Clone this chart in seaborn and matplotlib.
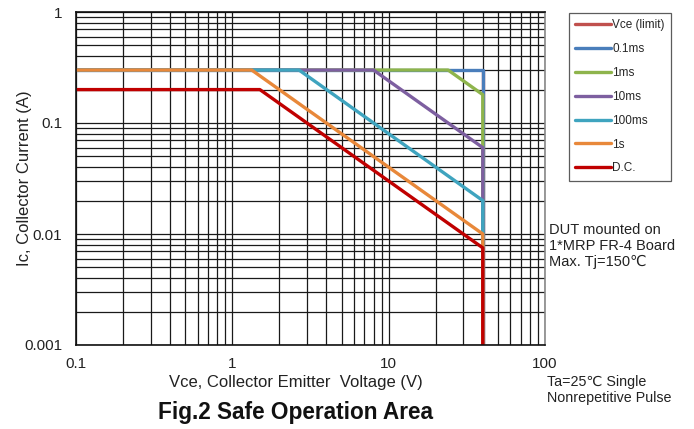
import numpy as np
import pandas as pd
import matplotlib
matplotlib.use("Agg")
import matplotlib.pyplot as plt
import seaborn as sns
from matplotlib.lines import Line2D
from matplotlib.ticker import LogLocator, FixedLocator, FixedFormatter, NullFormatter

# Safe operating area boundaries (Vce in V, Ic in A)
series_names = ["Vce (limit)", "0.1ms", "1ms", "10ms", "100ms", "1s", "D.C."]
vce_limit_v = [40, 40]
vce_limit_i = [0.001, 0.3]
v_01ms = [0.1, 40, 40, 40]
i_01ms = [0.3, 0.3, 0.18, 0.001]
v_1ms = [0.1, 24, 40, 40]
i_1ms = [0.3, 0.3, 0.18, 0.001]
v_10ms = [0.1, 8, 40, 40]
i_10ms = [0.3, 0.3, 0.06, 0.001]
v_100ms = [0.1, 2.67, 40, 40]
i_100ms = [0.3, 0.3, 0.02, 0.001]
v_1s = [0.1, 1.33, 40, 40]
i_1s = [0.3, 0.3, 0.01, 0.001]
v_dc = [0.1, 1.5, 40, 40]
i_dc = [0.2, 0.2, 0.0075, 0.001]

colors = ["#C0504D", "#4A7EBB", "#8EB44C", "#7D5FA0", "#3FA4BF", "#E8883A", "#C00000"]

xticks = [0.1, 1, 10, 100]
xticklabels = ["0.1", "1", "10", "100"]
yticks = [0.001, 0.01, 0.1, 1]
yticklabels = ["0.001", "0.01", "0.1", "1"]

frames = []
for name, v, i in zip(series_names,
                      [vce_limit_v, v_01ms, v_1ms, v_10ms, v_100ms, v_1s, v_dc],
                      [vce_limit_i, i_01ms, i_1ms, i_10ms, i_100ms, i_1s, i_dc]):
    frames.append(pd.DataFrame({"Vce": v, "Ic": i, "series": name}))
df = pd.concat(frames, ignore_index=True)

sns.set_style("white")
plt.rcParams["font.family"] = ["Liberation Sans", "DejaVu Sans"]

fig = plt.figure(figsize=(6.94, 4.29), dpi=100)
ax = fig.add_axes([76 / 694, 1 - 345 / 429, (545 - 76) / 694, (345 - 12) / 429])

ax.set_xscale("log")
ax.set_yscale("log")
ax.set_xlim(0.1, 100)
ax.set_ylim(0.001, 1)

# log grid
ax.xaxis.set_minor_locator(LogLocator(base=10, subs=np.arange(2, 10)))
ax.yaxis.set_minor_locator(LogLocator(base=10, subs=np.arange(2, 10)))
ax.grid(True, which="both", color="#1a1a1a", linewidth=0.9)
ax.set_axisbelow(True)

sns.lineplot(data=df, x="Vce", y="Ic", hue="series", hue_order=series_names,
             palette=colors, sort=False, units="series", estimator=None,
             linewidth=2.4, ax=ax, legend=False)
for line in ax.get_lines():
    line.set_solid_capstyle("butt")

ax.xaxis.set_major_locator(FixedLocator(xticks))
ax.xaxis.set_major_formatter(FixedFormatter(xticklabels))
ax.yaxis.set_major_locator(FixedLocator(yticks))
ax.yaxis.set_major_formatter(FixedFormatter(yticklabels))
ax.xaxis.set_minor_formatter(NullFormatter())
ax.yaxis.set_minor_formatter(NullFormatter())
ax.tick_params(which="both", length=0, labelsize=11, colors="#222222")
ax.tick_params(axis="x", pad=9)
ax.tick_params(axis="y", pad=10)

for side in ["left", "bottom", "top"]:
    ax.spines[side].set_color("#111111")
    ax.spines[side].set_linewidth(1.2)
ax.spines["right"].set_color("#888888")
ax.spines["right"].set_linewidth(1.2)

ax.set_xlabel("Vce, Collector Emitter  Voltage (V)", fontsize=12, color="#222222")
ax.xaxis.set_label_coords((296 - 76) / 469, -(382 - 345) / 333)
ax.xaxis.label.set_va("center")
ax.set_ylabel("Ic, Collector Current (A)", fontsize=12, color="#222222")
ax.yaxis.set_label_coords((25 - 76) / 469, 0.5)
ax.yaxis.label.set_va("center")

# Legend in a separate box at the right
handles = [Line2D([0], [0], color=c, linewidth=2.4) for c in colors]
leg = fig.legend(handles, series_names, loc="upper left",
                 bbox_to_anchor=(569 / 694, 1 - 13 / 429), frameon=True,
                 fontsize=8.5, handlelength=3.0, handletextpad=0.1,
                 labelspacing=1.0, borderpad=0.55, fancybox=False,
                 borderaxespad=0)
leg.get_frame().set_edgecolor("#333333")
leg.get_frame().set_linewidth(0.9)

fig.text(549 / 694, 1 - 246 / 429,
         "DUT mounted on\n1*MRP FR-4 Board\nMax. Tj=150\u2103",
         fontsize=10.5, va="center", ha="left", linespacing=1.2, color="#222222")
fig.text(547 / 694, 1 - 390 / 429, "Ta=25\u2103 Single\nNonrepetitive Pulse",
         fontsize=10.3, va="center", ha="left", linespacing=1.2, color="#222222")
fig.text(296 / 694, 1 - 413 / 429, "Fig.2 Safe Operation Area", fontsize=16.3,
         fontweight="bold", ha="center", va="center", color="#111111")

fig.savefig("out.png", dpi=100, facecolor="white")
